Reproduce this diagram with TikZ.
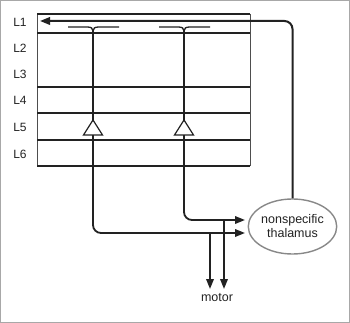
\documentclass[tikz,border=0pt]{standalone}
\usepackage{fontspec}
\setmainfont{Liberation Sans}
\usetikzlibrary{arrows.meta,shapes.geometric}
\definecolor{ink}{HTML}{222222}
\definecolor{rim}{HTML}{888888}
\definecolor{frame}{HTML}{A8A8A8}
\tikzset{
  layerlbl/.style={font=\fontsize{12}{14}\selectfont, text=ink, inner sep=0pt},
  thickline/.style={draw=ink, line width=2.4pt},
  midline/.style={draw=ink, line width=1.5pt},
  sideline/.style={draw=ink!80, line width=1pt},
  dendrite/.style={draw=ink, line width=1.3pt},
  axon/.style={draw=ink, line width=1.8pt, rounded corners=8pt},
  tip/.style={-{Triangle[length=10pt,width=7.5pt]}},
  soma/.style={draw=ink, line width=1.2pt, fill=white, line join=miter},
}
\begin{document}
\begin{tikzpicture}[x=1pt,y=-1pt]
\useasboundingbox (0,0) rectangle (350,323);
\draw[frame, line width=1pt] (0.5,0.5) rectangle (349.5,322.5);

% layer box
\draw[sideline] (37,14) -- (37,166);
\draw[sideline] (250,14) -- (250,166);
\draw[thickline] (37,14) -- (250,14);
\draw[thickline] (37,166) -- (250,166);
\foreach \yy in {33,87,113,140} \draw[midline] (37,\yy) -- (250,\yy);

% labels
\node[layerlbl] (l1) at (20,22) {L1};
\node[layerlbl] (l2) at (20,48) {L2};
\node[layerlbl] (l3) at (20,74) {L3};
\node[layerlbl] (l4) at (20,100) {L4};
\node[layerlbl] (l5) at (20,127) {L5};
\node[layerlbl] (l6) at (20,154) {L6};

% thalamus
\node[ellipse, draw=rim, line width=1.4pt, minimum width=83pt, minimum height=55pt,
      inner sep=0pt, align=center, font=\fontsize{12.5}{14}\selectfont, text=ink]
      (thal) at (292.5,226.5) {nonspecific\\thalamus};
\node[font=\fontsize{12.5}{14}\selectfont, text=ink, inner sep=0pt] (motor) at (217,298) {motor};

% coordinates
\coordinate (l1tip) at (40,21);
\coordinate (s1) at (93,120);
\coordinate (s2) at (184,120);
\coordinate (b1) at (93,135);
\coordinate (b2) at (184,135);
\coordinate (in1) at (245,233);
\coordinate (in2) at (245,220);
\coordinate (m1) at (210,289);
\coordinate (m2) at (224,289);

% thalamus to L1
\draw[axon, line width=2pt, tip] (thal.north) |- (l1tip);

% dendrites with tufts
\foreach \c in {93,184} {
  \draw[dendrite] (\c,120) -- (\c,31);
  \draw[dendrite] (\c-25,27) -- (\c-6,27) .. controls (\c-2,27) and (\c,28) .. (\c,31)
                  .. controls (\c,28) and (\c+2,27) .. (\c+6,27) -- (\c+26,27);
}

% axons
\draw[axon, tip] (b1) -- (93,233) -- (in1);
\draw[axon, tip] (b2) -- (184,220) -- (in2);
\draw[axon, rounded corners=0pt, tip] (210,233) -- (m1);
\draw[axon, rounded corners=0pt, tip] (224,220) -- (m2);

% somata
\draw[soma] (s1) -- (102.5,135) -- (83.5,135) -- cycle;
\draw[soma] (s2) -- (193.5,135) -- (174.5,135) -- cycle;
\end{tikzpicture}
\end{document}
